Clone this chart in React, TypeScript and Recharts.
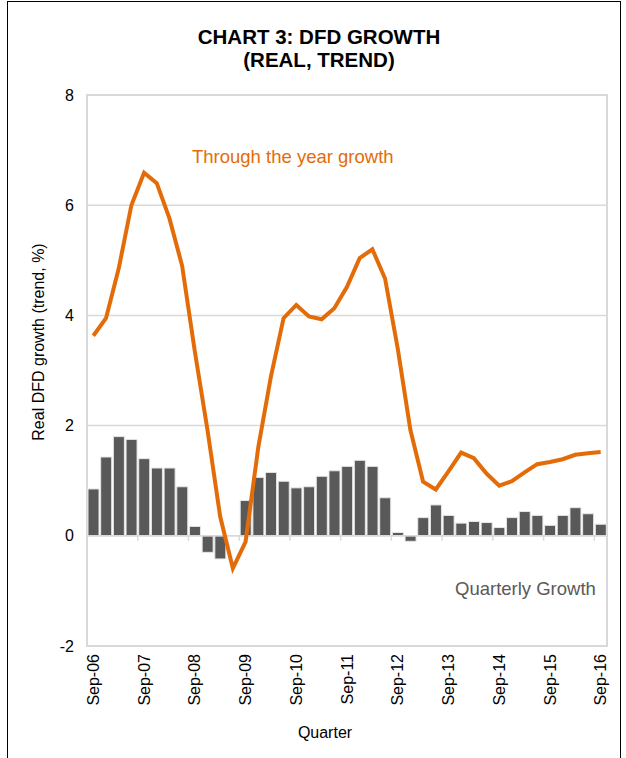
import React from "react";
import {
  ComposedChart,
  Bar,
  Line,
  XAxis,
  YAxis,
  CartesianGrid,
  ReferenceLine,
  ReferenceArea,
  Customized,
} from "recharts";

const quarters = [
  "Sep-06", "Dec-06", "Mar-07", "Jun-07",
  "Sep-07", "Dec-07", "Mar-08", "Jun-08",
  "Sep-08", "Dec-08", "Mar-09", "Jun-09",
  "Sep-09", "Dec-09", "Mar-10", "Jun-10",
  "Sep-10", "Dec-10", "Mar-11", "Jun-11",
  "Sep-11", "Dec-11", "Mar-12", "Jun-12",
  "Sep-12", "Dec-12", "Mar-13", "Jun-13",
  "Sep-13", "Dec-13", "Mar-14", "Jun-14",
  "Sep-14", "Dec-14", "Mar-15", "Jun-15",
  "Sep-15", "Dec-15", "Mar-16", "Jun-16",
  "Sep-16",
];

// quarterly growth, %
const quarterlyGrowth = [
  0.85, 1.43, 1.8, 1.75, 1.4, 1.23, 1.23, 0.89, 0.17, -0.3, -0.42, 0.0,
  0.64, 1.06, 1.15, 0.99, 0.87, 0.89, 1.08, 1.18, 1.26, 1.37, 1.26, 0.69,
  0.06, -0.1, 0.33, 0.56, 0.37, 0.23, 0.26, 0.24, 0.15, 0.33, 0.44, 0.37,
  0.19, 0.37, 0.51, 0.4, 0.21,
];

// through the year growth, %
const yearGrowth = [
  3.63, 3.95, 4.85, 6.0, 6.59, 6.4, 5.76, 4.9, 3.35, 1.92, 0.35, -0.59,
  -0.11, 1.6, 2.89, 3.95, 4.19, 3.98, 3.93, 4.13, 4.52, 5.04, 5.2, 4.67,
  3.4, 1.92, 0.98, 0.84, 1.17, 1.51, 1.41, 1.13, 0.91, 0.99, 1.15, 1.3,
  1.34, 1.39, 1.47, 1.5, 1.52,
];

const yTicks = [-2, 0, 2, 4, 6, 8];

const data = quarters.map((q, i) => ({
  q,
  idx: i,
  quarterly: quarterlyGrowth[i],
  year: yearGrowth[i],
}));

// small tick marks on the zero line sit between Jun and Sep quarters
const yearBreaks = quarters
  .map((q, i) => (i > 0 && q.startsWith("Sep") ? i - 0.5 : null))
  .filter((v) => v !== null) as number[];

const FONT = '"Liberation Sans", Arial, sans-serif';
const GRID = "#d9d9d9";
const ORANGE = "#E36C09";
const BAR_GREY = "#595959";

const XTick = ({ x, y, payload }: any) => (
  <text
    x={x}
    y={y}
    transform={`rotate(-90, ${x}, ${y})`}
    textAnchor="end"
    dy="0.35em"
    fontSize={16}
    fontFamily={FONT}
    fill="#000"
  >
    {payload.value}
  </text>
);

const Notes = () => (
  <g fontFamily={FONT}>
    <text x={192} y={163} fontSize={18.5} fill={ORANGE}>
      Through the year growth
    </text>
    <text x={455} y={595} fontSize={18.5} fill={BAR_GREY}>
      Quarterly Growth
    </text>
  </g>
);

export default function App() {
  return (
    <div
      style={{
        position: "absolute",
        left: 0,
        top: 0,
        width: 626,
        height: 758,
        background: "#fff",
        fontFamily: FONT,
      }}
    >
      <div
        style={{
          position: "absolute",
          left: 7,
          top: 1,
          width: 612,
          height: 760,
          borderLeft: "1px solid #000",
          borderTop: "1px solid #000",
          borderRight: "1px solid #000",
        }}
      />
      <div
        style={{
          position: "absolute",
          left: 0,
          top: 25,
          width: 638,
          textAlign: "center",
          fontWeight: "bold",
          fontSize: 20.5,
          lineHeight: "23px",
          color: "#000",
        }}
      >
        CHART 3: DFD GROWTH
        <br />
        (REAL, TREND)
      </div>
      <ComposedChart
        width={626}
        height={758}
        data={data}
        margin={{ top: 95, right: 19, bottom: 0, left: 0 }}
        barCategoryGap={1}
        style={{ position: "absolute", left: 0, top: 0 }}
      >
        <CartesianGrid vertical={false} stroke={GRID} strokeWidth={1.5} />
        <XAxis
          dataKey="q"
          interval={3}
          tickLine={false}
          axisLine={false}
          tickSize={0}
          tickMargin={8}
          height={112}
          tick={<XTick />}
          label={{
            content: () => (
              <text
                x={325}
                y={738}
                textAnchor="middle"
                fontSize={16}
                fontFamily={FONT}
                fill="#000"
              >
                Quarter
              </text>
            ),
          }}
        />
        <XAxis
          xAxisId="b"
          type="number"
          dataKey="idx"
          domain={[-0.5, quarters.length - 0.5]}
          allowDataOverflow
          hide
        />
        <YAxis
          domain={[-2, 8]}
          ticks={yTicks}
          width={87}
          tickLine={false}
          axisLine={false}
          tickSize={0}
          tickMargin={13}
          tick={{ fontSize: 16, fill: "#000", fontFamily: FONT }}
          label={{
            content: () => (
              <text
                x={44}
                y={342}
                transform="rotate(-90, 44, 342)"
                textAnchor="middle"
                fontSize={16}
                fontFamily={FONT}
                fill="#000"
              >
                Real DFD growth (trend, %)
              </text>
            ),
          }}
        />
        <ReferenceArea
          xAxisId="b"
          x1={-0.5}
          x2={quarters.length - 0.5}
          y1={-2}
          y2={8}
          fill="none"
          stroke={GRID}
          strokeWidth={2}
          ifOverflow="visible"
        />
        <ReferenceLine y={0} stroke={GRID} strokeWidth={1.5} />
        {yearBreaks.map((b) => (
          <ReferenceLine
            key={b}
            xAxisId="b"
            segment={[
              { x: b, y: 0 },
              { x: b, y: -0.09 },
            ]}
            stroke={GRID}
            strokeWidth={1.5}
          />
        ))}
        <Bar
          dataKey="quarterly"
          fill={BAR_GREY}
          stroke="#e6e6e6"
          strokeWidth={1}
          isAnimationActive={false}
        />
        <Line
          dataKey="year"
          type="linear"
          stroke={ORANGE}
          strokeWidth={4}
          strokeLinejoin="miter"
          dot={false}
          activeDot={false}
          isAnimationActive={false}
        />
        <Customized component={Notes} />
      </ComposedChart>
    </div>
  );
}
